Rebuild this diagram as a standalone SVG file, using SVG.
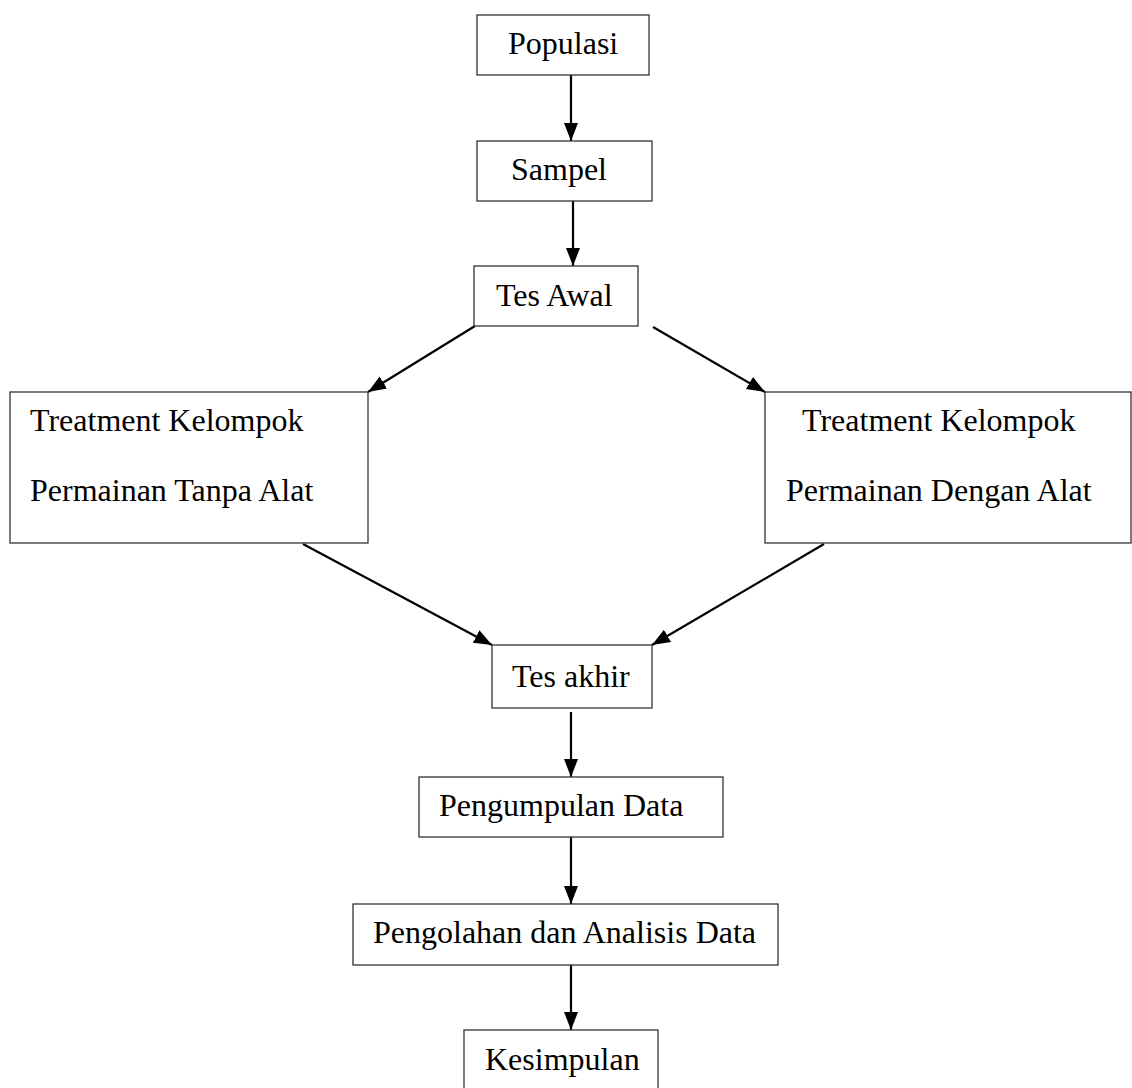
<svg xmlns="http://www.w3.org/2000/svg" width="1132" height="1088" viewBox="0 0 1132 1088">
<style>
.box{fill:#fff;stroke:#333;stroke-width:1.3}
.t{font-family:"Liberation Serif","Times New Roman",serif;font-size:32px;fill:#000}
.c{stroke:#000;stroke-width:2.2;fill:none;marker-end:url(#ah)}
</style>
<defs>
<marker id="ah" markerUnits="userSpaceOnUse" markerWidth="20" markerHeight="16" refX="18" refY="7" orient="auto">
<path d="M0,0 L18,7 L0,14 Z" fill="#000"/>
</marker>
</defs>
<rect width="1132" height="1088" fill="#fff"/>
<g id="connectors">
<line class="c" x1="571" y1="75" x2="571" y2="141"/>
<line class="c" x1="573" y1="201" x2="573" y2="266"/>
<line class="c" x1="475" y1="326" x2="368" y2="392"/>
<line class="c" x1="653" y1="327" x2="765" y2="392"/>
<line class="c" x1="303" y1="544" x2="492" y2="645"/>
<line class="c" x1="824" y1="544" x2="652" y2="645"/>
<line class="c" x1="571" y1="712" x2="571" y2="777"/>
<line class="c" x1="571" y1="837" x2="571" y2="904"/>
<line class="c" x1="571" y1="965" x2="571" y2="1030"/>
</g>
<g id="populasi"><rect class="box" x="477" y="15" width="172" height="60"/><text class="t" x="508" y="54">Populasi</text></g>
<g id="sampel"><rect class="box" x="477" y="141" width="175" height="60"/><text class="t" x="511" y="180">Sampel</text></g>
<g id="tes-awal"><rect class="box" x="474" y="266" width="164" height="60"/><text class="t" x="496" y="306">Tes Awal</text></g>
<g id="treatment-tanpa"><rect class="box" x="10" y="392" width="358" height="151"/><text class="t" x="30" y="431">Treatment Kelompok</text><text class="t" x="30" y="501">Permainan Tanpa Alat</text></g>
<g id="treatment-dengan"><rect class="box" x="765" y="392" width="366" height="151"/><text class="t" x="802" y="431">Treatment Kelompok</text><text class="t" x="786" y="501">Permainan Dengan Alat</text></g>
<g id="tes-akhir"><rect class="box" x="492" y="645" width="160" height="63"/><text class="t" x="512" y="687">Tes akhir</text></g>
<g id="pengumpulan"><rect class="box" x="419" y="777" width="304" height="60"/><text class="t" x="439" y="816">Pengumpulan Data</text></g>
<g id="pengolahan"><rect class="box" x="353" y="904" width="425" height="61"/><text class="t" x="373" y="943">Pengolahan dan Analisis Data</text></g>
<g id="kesimpulan"><rect class="box" x="464" y="1030" width="194" height="70"/><text class="t" x="485" y="1070">Kesimpulan</text></g>
</svg>
